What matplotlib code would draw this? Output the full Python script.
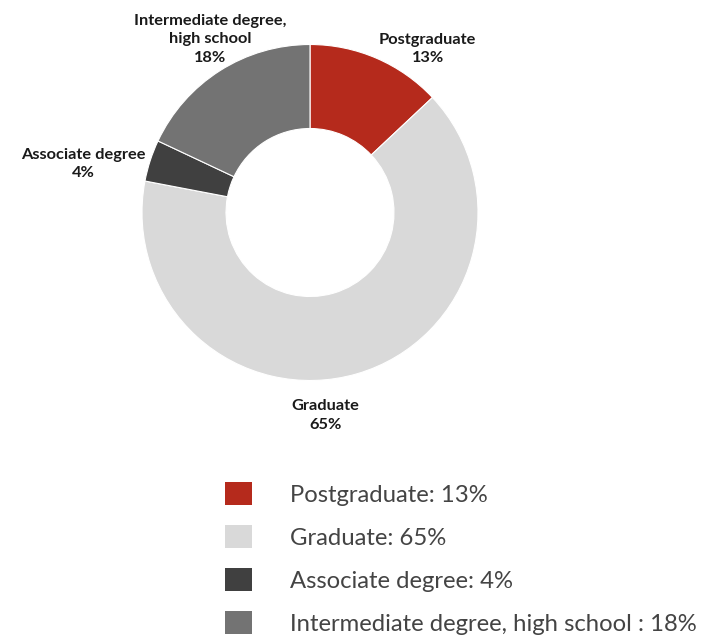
import matplotlib
matplotlib.use("Agg")
import matplotlib.pyplot as plt
from matplotlib.patches import Rectangle

categories = ["Postgraduate", "Graduate", "Associate degree", "Intermediate degree, high school"]
values = [13, 65, 4, 18]
pie_labels = ["Postgraduate", "Graduate", "Associate degree", "Intermediate degree,\nhigh school"]
legend_labels = ["Postgraduate: 13%", "Graduate: 65%", "Associate degree: 4%",
                 "Intermediate degree, high school : 18%"]
colors = ["#b52a1c", "#d9d9d9", "#404040", "#737373"]

# label anchor points in units of the outer radius
label_pos = [(0.70, 0.975), (0.09, -1.208), (-1.35, 0.29), (-0.595, 1.03)]

plt.rcParams["font.family"] = ["Lato", "DejaVu Sans"]

W, H = 703, 639
fig = plt.figure(figsize=(W / 100, H / 100), dpi=100)
fig.patch.set_facecolor("white")

cx, cy, R = 310, 212.5, 168
ax = fig.add_axes([(cx - R) / W, (H - cy - R) / H, 2 * R / W, 2 * R / H])

wedges, _ = ax.pie(values, colors=colors, startangle=90, counterclock=False,
                   radius=1, wedgeprops=dict(width=0.5, edgecolor="white", linewidth=0.8))
ax.set_xlim(-1, 1)
ax.set_ylim(-1, 1)
ax.set_aspect("equal")
ax.axis("off")

for lab, val, (x, y) in zip(pie_labels, values, label_pos):
    ax.text(x, y, f"{lab}\n{val}%", ha="center", va="center", fontsize=11.8,
            fontweight="bold", color="#1a1a1a", linespacing=1.38, clip_on=False)

handles = [Rectangle((0, 0), 1, 1, facecolor=c, edgecolor="none") for c in colors]
leg = fig.legend(handles, legend_labels, loc="upper left",
                 bbox_to_anchor=(225 / W, 1 - 482 / H), frameon=False,
                 fontsize=17.2, handlelength=1.13, handleheight=1.13,
                 handletextpad=1.59, labelspacing=0.8, borderpad=0, borderaxespad=0)
for t in leg.get_texts():
    t.set_color("#444444")

fig.savefig("out.png", dpi=100, facecolor="white")
